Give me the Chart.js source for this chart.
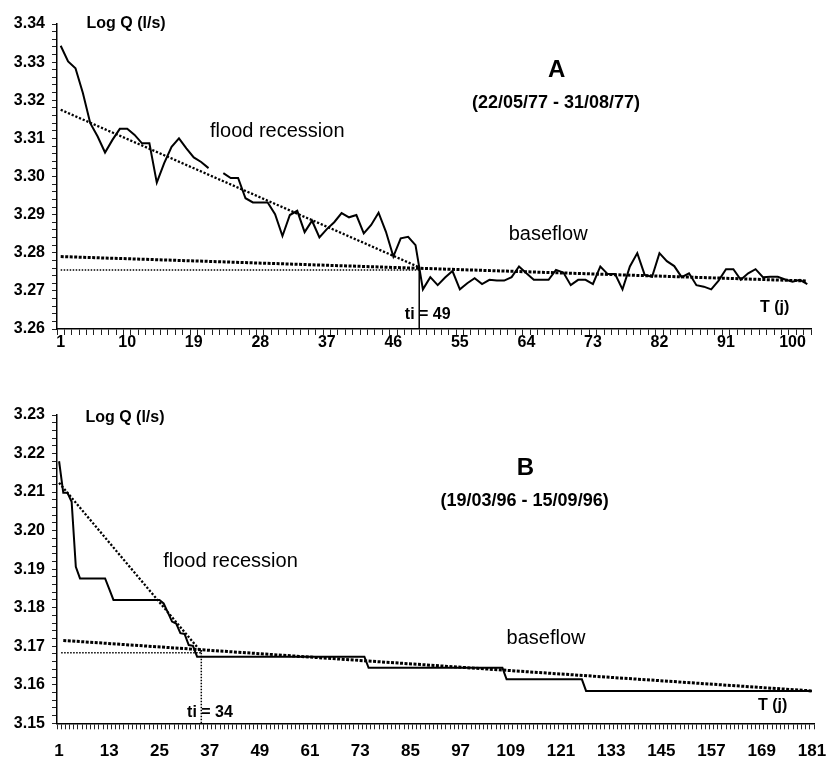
<!DOCTYPE html>
<html>
<head>
<meta charset="utf-8">
<script src="https://cdn.jsdelivr.net/npm/chart.js@4.4.1/dist/chart.umd.min.js"></script>
<style>
  html, body { margin: 0; padding: 0; background: #fff; }
  canvas { position: absolute; left: 0; }
  #chartA { top: 0; }
  #chartB { top: 370px; }
</style>
</head>
<body>
<canvas id="chartA" width="828" height="370"></canvas>
<canvas id="chartB" width="828" height="390"></canvas>
<script>
// ---- A : 22/05/77 - 31/08/77 (102 days) ----
const daysA = Array.from({ length: 102 }, (_, i) => i + 1);
const labelsA = [1, 10, 19, 28, 37, 46, 55, 64, 73, 82, 91, 100];
const logQA = [
    3.3343, 3.3302, 3.3284, 3.3219, 3.3140, 3.3105, 3.3063, 3.3096, 3.3125, 3.3125,
    3.3109, 3.3087, 3.3087, 3.2984, 3.3035, 3.3078, 3.3100, 3.3074, 3.3050, 3.3038,
    3.3022, null,   3.3009, 3.2996, 3.2996, 3.2943, 3.2932, 3.2932, 3.2932, 3.2901,
    3.2844, 3.2899, 3.2910, 3.2854, 3.2884, 3.2840, 3.2862, 3.2880, 3.2904, 3.2893,
    3.2899, 3.2851, 3.2873, 3.2905, 3.2855, 3.2790, 3.2838, 3.2842, 3.2820, 3.2704,
    3.2736, 3.2715, 3.2735, 3.2752, 3.2704, 3.2720, 3.2733, 3.2718, 3.2729, 3.2727,
    3.2727, 3.2736, 3.2764, 3.2746, 3.2729, 3.2729, 3.2729, 3.2755, 3.2748, 3.2715,
    3.2729, 3.2729, 3.2718, 3.2764, 3.2744, 3.2744, 3.2704, 3.2764, 3.2799, 3.2742,
    3.2737, 3.2799, 3.2778, 3.2765, 3.2736, 3.2746, 3.2715, 3.2711, 3.2704, 3.2727,
    3.2757, 3.2757, 3.2729, 3.2746, 3.2757, 3.2736, 3.2737, 3.2737, 3.2730, 3.2724,
    3.2729, 3.2718
];
// ti is drawn on the category boundary, as in the original
const floodA = [{ x: 1, y: 3.3175 }, { x: 49.5, y: 3.2762 }];
const baseA = [{ x: 1, y: 3.2790 }, { x: 102, y: 3.2726 }];
const levelA = [{ x: 1, y: 3.2755 }, { x: 49.5, y: 3.2755 }];
const tiA = [{ x: 49.5, y: 3.26 }, { x: 49.5, y: 3.2762 }];

// ---- B : 19/03/96 - 15/09/96 (181 days) ----
const daysB = Array.from({ length: 181 }, (_, i) => i + 1);
const labelsB = [1, 13, 25, 37, 49, 61, 73, 85, 97, 109, 121, 133, 145, 157, 169, 181];
const logQB = [
    3.2180, 3.2098, 3.2098, 3.2075, 3.1906, 3.1876, 3.1876, 3.1876, 3.1876, 3.1876,
    3.1876, 3.1876, 3.1848, 3.1820, 3.1820, 3.1820, 3.1820, 3.1820, 3.1820, 3.1820,
    3.1820, 3.1820, 3.1820, 3.1820, 3.1820, 3.1811, 3.1788, 3.1764, 3.1759, 3.1734,
    3.1732, 3.1703, 3.1701, 3.1673, 3.1673, 3.1673, 3.1673, 3.1673, 3.1673, 3.1673,
    3.1673, 3.1673, 3.1673, 3.1673, 3.1673, 3.1673, 3.1673, 3.1673, 3.1673, 3.1673,
    3.1673, 3.1673, 3.1673, 3.1673, 3.1673, 3.1673, 3.1673, 3.1673, 3.1673, 3.1673,
    3.1673, 3.1673, 3.1673, 3.1673, 3.1673, 3.1673, 3.1673, 3.1673, 3.1673, 3.1673,
    3.1673, 3.1673, 3.1673, 3.1673, 3.1644, 3.1644, 3.1644, 3.1644, 3.1644, 3.1644,
    3.1644, 3.1644, 3.1644, 3.1644, 3.1644, 3.1644, 3.1644, 3.1644, 3.1644, 3.1644,
    3.1644, 3.1644, 3.1644, 3.1644, 3.1644, 3.1644, 3.1644, 3.1644, 3.1644, 3.1644,
    3.1644, 3.1644, 3.1644, 3.1644, 3.1644, 3.1644, 3.1644, 3.1614, 3.1614, 3.1614,
    3.1614, 3.1614, 3.1614, 3.1614, 3.1614, 3.1614, 3.1614, 3.1614, 3.1614, 3.1614,
    3.1614, 3.1614, 3.1614, 3.1614, 3.1614, 3.1614, 3.1584, 3.1584, 3.1584, 3.1584,
    3.1584, 3.1584, 3.1584, 3.1584, 3.1584, 3.1584, 3.1584, 3.1584, 3.1584, 3.1584,
    3.1584, 3.1584, 3.1584, 3.1584, 3.1584, 3.1584, 3.1584, 3.1584, 3.1584, 3.1584,
    3.1584, 3.1584, 3.1584, 3.1584, 3.1584, 3.1584, 3.1584, 3.1584, 3.1584, 3.1584,
    3.1584, 3.1584, 3.1584, 3.1584, 3.1584, 3.1584, 3.1584, 3.1584, 3.1584, 3.1584,
    3.1584, 3.1584, 3.1584, 3.1584, 3.1584, 3.1584, 3.1584, 3.1584, 3.1584, 3.1584,
    3.1584
];
const floodB = [{ x: 1, y: 3.2124 }, { x: 35, y: 3.1685 }];
const baseB = [{ x: 2, y: 3.1715 }, { x: 181, y: 3.1584 }];
const levelB = [{ x: 1.5, y: 3.1683 }, { x: 35, y: 3.1683 }];
const tiB = [{ x: 35, y: 3.15 }, { x: 35, y: 3.1690 }];

const FONT = '"Liberation Sans", Arial, Helvetica, sans-serif';
Chart.defaults.font.family = FONT;
Chart.defaults.color = '#000';

function lineSet(points, width, dash) {
    return {
        data: points,
        borderColor: '#000',
        borderWidth: width,
        borderDash: dash,
        borderCapStyle: 'butt',
        pointRadius: 0,
        tension: 0,
        fill: false,
        spanGaps: false
    };
}

// texte posé en coordonnées de données, sous les courbes
function notesPlugin(items) {
    return {
        id: 'notes',
        beforeDatasetsDraw(chart) {
            const { ctx, scales: { x, y } } = chart;
            ctx.save();
            ctx.fillStyle = '#000';
            ctx.textBaseline = 'middle';
            items.forEach(n => {
                ctx.font = n.font;
                ctx.textAlign = n.align || 'left';
                ctx.fillText(n.text, x.getPixelForValue(n.x), y.getPixelForValue(n.y));
            });
            ctx.restore();
        }
    };
}

function makeChart(id, o) {
    const obs = o.days.map((d, i) => ({ x: d, y: o.values[i] }));
    const xTicks = [];
    for (let k = 0; k <= o.days.length; k++) xTicks.push(k + 0.5);
    o.labels.forEach(v => xTicks.push(v));
    xTicks.sort((a, b) => a - b);

    return new Chart(document.getElementById(id), {
        type: 'line',
        data: {
            datasets: [
                lineSet(obs, 2, []),
                lineSet(o.flood, 2.3, [2.2, 1.8]),
                lineSet(o.base, 3, [3, 1.5]),
                lineSet(o.level, 1.5, [1.5, 1.5]),
                lineSet(o.ti, o.tiWidth, o.tiDash)
            ]
        },
        options: {
            responsive: false,
            animation: false,
            layout: { padding: o.padding },
            plugins: { legend: { display: false }, tooltip: { enabled: false } },
            scales: {
                x: {
                    type: 'linear',
                    min: 0.5,
                    max: o.days.length + 0.5,
                    afterBuildTicks: s => { s.ticks = xTicks.map(v => ({ value: v })); },
                    afterFit: s => { s.height = o.xHeight; },
                    ticks: {
                        autoSkip: false,
                        maxRotation: 0,
                        minRotation: 0,
                        padding: o.xPad,
                        font: { size: o.xFont, weight: 'bold', lineHeight: 1 },
                        callback: v => o.labels.includes(v) ? String(v) : ''
                    },
                    grid: {
                        drawOnChartArea: false,
                        tickLength: 6,
                        tickWidth: 1,
                        tickColor: c => (c.tick && o.labels.includes(c.tick.value)) ? 'rgba(0,0,0,0)' : '#222'
                    },
                    border: { color: '#000', width: 1.5 }
                },
                y: {
                    min: o.yMin,
                    max: o.yMax,
                    afterFit: s => { s.width = 57; },
                    ticks: {
                        stepSize: 0.002,
                        autoSkip: false,
                        padding: 7,
                        font: { size: 16, weight: 'bold' },
                        callback: v => Math.round(v * 1000) % 10 === 0 ? v.toFixed(2) : ''
                    },
                    grid: { drawOnChartArea: false, tickLength: 5, tickWidth: 1, tickColor: '#222' },
                    border: { color: '#000', width: 1.5 }
                }
            }
        },
        plugins: [notesPlugin(o.notes)]
    });
}

const bold16 = 'bold 16px ' + FONT;
const bold18 = 'bold 18px ' + FONT;
const bold24 = 'bold 24px ' + FONT;
const reg20 = '20px ' + FONT;

makeChart('chartA', {
    days: daysA, values: logQA, labels: labelsA,
    flood: floodA, base: baseA, level: levelA, ti: tiA, tiWidth: 1.5, tiDash: [],
    yMin: 3.26, yMax: 3.34,
    padding: { top: 24, right: 17, left: 0, bottom: 0 },
    xHeight: 41, xPad: 0, xFont: 16,
    notes: [
        { text: 'Log Q (l/s)', x: 4.5, y: 3.3400, font: bold16 },
        { text: 'A', x: 68.1, y: 3.3279, font: bold24, align: 'center' },
        { text: '(22/05/77 - 31/08/77)', x: 68.0, y: 3.3193, font: bold18, align: 'center' },
        { text: 'flood recession', x: 21.2, y: 3.3117, font: reg20 },
        { text: 'baseflow', x: 61.6, y: 3.2847, font: reg20 },
        { text: 'ti = 49', x: 47.55, y: 3.2637, font: bold16 },
        { text: 'T (j)', x: 95.6, y: 3.2655, font: bold16 }
    ]
});

makeChart('chartB', {
    days: daysB, values: logQB, labels: labelsB,
    flood: floodB, base: baseB, level: levelB, ti: tiB, tiWidth: 1.5, tiDash: [1.5, 1.5],
    yMin: 3.15, yMax: 3.23,
    padding: { top: 45, right: 10, left: 0, bottom: 0 },
    xHeight: 36.7, xPad: 14, xFont: 17,
    notes: [
        { text: 'Log Q (l/s)', x: 7.3, y: 3.2292, font: bold16 },
        { text: 'B', x: 112.5, y: 3.2162, font: bold24, align: 'center' },
        { text: '(19/03/96 - 15/09/96)', x: 112.3, y: 3.2077, font: bold18, align: 'center' },
        { text: 'flood recession', x: 25.9, y: 3.1919, font: reg20 },
        { text: 'baseflow', x: 108, y: 3.1719, font: reg20 },
        { text: 'ti = 34', x: 31.6, y: 3.1527, font: bold16 },
        { text: 'T (j)', x: 168.1, y: 3.1547, font: bold16 }
    ]
});
</script>
</body>
</html>
